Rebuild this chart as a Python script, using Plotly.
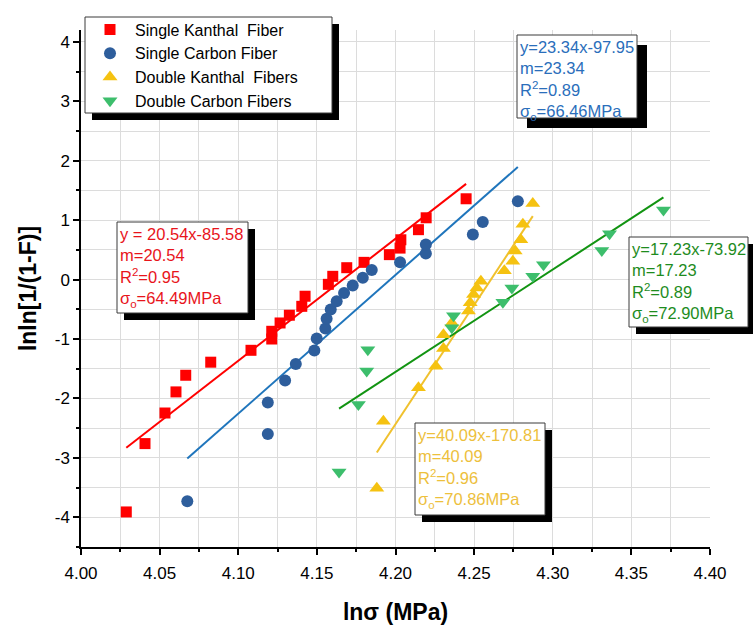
import plotly.graph_objects as go

# ---------------- data ----------------
sk_x = [4.0288, 4.0407, 4.0534, 4.0604, 4.0666, 4.0825, 4.1081, 4.1213, 4.1213, 4.1266, 4.1325,
        4.1404, 4.1425, 4.1573, 4.1601, 4.1690, 4.1800, 4.1961, 4.2029, 4.2034, 4.2146, 4.2195, 4.2449]
sk_y = [-3.91, -2.76, -2.245, -1.89, -1.61, -1.39, -1.19, -1.00, -0.87, -0.73, -0.60,
        -0.45, -0.28, -0.08, 0.055, 0.20, 0.29, 0.42, 0.53, 0.67, 0.84, 1.04, 1.36]

sc_x = [4.0676, 4.1188, 4.1188, 4.1298, 4.1366, 4.1484, 4.1499, 4.1554, 4.1562, 4.1588, 4.1626,
        4.1673, 4.1728, 4.1792, 4.1849, 4.2029, 4.2193, 4.2193, 4.2492, 4.2555, 4.2778]
sc_y = [-3.73, -2.60, -2.07, -1.70, -1.42, -1.195, -0.99, -0.825, -0.66, -0.505, -0.365,
        -0.224, -0.10, 0.03, 0.16, 0.29, 0.44, 0.59, 0.76, 0.97, 1.32]

dk_x = [4.1881, 4.1923, 4.2146, 4.2256, 4.2305, 4.2305, 4.2358, 4.2464, 4.2475, 4.2496, 4.2517,
        4.2543, 4.2692, 4.2746, 4.2761, 4.2797, 4.2810, 4.2873]
dk_y = [-3.51, -2.385, -1.82, -1.46, -1.16, -0.93, -0.73, -0.53, -0.39, -0.25, -0.14,
        -0.03, 0.15, 0.31, 0.48, 0.67, 0.93, 1.28]

dc_x = [4.1641, 4.1764, 4.1817, 4.1824, 4.2358, 4.2369, 4.2683, 4.2740, 4.2873, 4.2941,
        4.3312, 4.3361, 4.3704]
dc_y = [-3.24, -2.10, -1.54, -1.18, -0.81, -0.61, -0.38, -0.14, 0.055, 0.25,
        0.49, 0.77, 1.17]

series_names = ["Single Kanthal\u00a0 Fiber", "Single Carbon Fiber",
                "Double Kanthal\u00a0 Fibers", "Double Carbon Fibers"]
slopes = [20.54, 23.34, 40.09, 17.23]
intercepts = [-85.58, -97.95, -170.81, -73.92]
r2_values = [0.95, 0.89, 0.96, 0.89]
sigma0_values = [64.49, 66.46, 70.86, 72.90]
eq_texts = ["y = 20.54x-85.58", "y=23.34x-97.95", "y=40.09x-170.81", "y=17.23x-73.92"]

x_ticks = [4.00, 4.05, 4.10, 4.15, 4.20, 4.25, 4.30, 4.35, 4.40]
x_tick_text = ["4.00", "4.05", "4.10", "4.15", "4.20", "4.25", "4.30", "4.35", "4.40"]
y_ticks = [-4, -3, -2, -1, 0, 1, 2, 3, 4]
y_tick_text = ["-4", "-3", "-2", "-1", "0", "1", "2", "3", "4"]

# ---------------- styles ----------------
marker_colors = ["#FF0000", "#2E5E9C", "#F5C211", "#3DBE6C"]
line_colors = ["#FF0000", "#1F75BC", "#F0C12E", "#129412"]
text_colors = ["#E8141B", "#2A6EBB", "#EDC03C", "#1E8C1E"]
symbols = ["square", "circle", "triangle-up", "triangle-down"]
sizes = [11, 12, 13, 13]

xs = [sk_x, sc_x, dk_x, dc_x]
ys = [sk_y, sc_y, dk_y, dc_y]

FONT = "Arial, 'Liberation Sans', sans-serif"
W, H = 753, 628
PL, PT, PR, PB = 81, 30, 43, 81
PW, PH = W - PL - PR, H - PT - PB


def px(xp):
    return (xp - PL) / PW


def py(yp):
    return (PT + PH - yp) / PH


fig = go.Figure()

# fit lines
for i in range(4):
    x0, x1 = min(xs[i]), max(xs[i])
    fig.add_trace(go.Scatter(
        x=[x0, x1], y=[slopes[i] * x0 + intercepts[i], slopes[i] * x1 + intercepts[i]],
        mode="lines", line=dict(color=line_colors[i], width=2),
        showlegend=False, hoverinfo="skip"))

# data points
for i in range(4):
    fig.add_trace(go.Scatter(
        x=xs[i], y=ys[i], mode="markers", name=series_names[i],
        marker=dict(symbol=symbols[i], size=sizes[i], color=marker_colors[i],
                    line=dict(width=0))))

# boxes: (left, top, right, bottom) in pixels, shadow offset
boxes = [
    (117, 222, 248, 313, 7),   # red
    (517, 35, 637, 118, 10),   # blue
    (415, 423, 545, 515, 7),   # yellow
    (629, 237, 748, 327, 7),   # green
]
legend_box = (85, 17, 332, 113, 7)

shapes = []
for (l, t, r, b, o) in [legend_box] + boxes:
    shapes.append(dict(type="rect", xref="paper", yref="paper",
                       x0=px(l + o), x1=px(r + o), y0=py(b + o), y1=py(t + o),
                       fillcolor="black", line=dict(width=0), layer="above"))
    shapes.append(dict(type="rect", xref="paper", yref="paper",
                       x0=px(l), x1=px(r), y0=py(b), y1=py(t),
                       fillcolor="white", line=dict(color="#3A3A3A", width=1), layer="above"))

annotations = []
for i in range(4):
    l, t, r, b, o = boxes[i]
    txt = (f"{eq_texts[i]}<br>m={slopes[i]:.2f}<br>R<sup>2</sup>={r2_values[i]:.2f}"
           f"<br>σ<sub>o</sub>={sigma0_values[i]:.2f}MPa")
    annotations.append(dict(
        xref="paper", yref="paper", x=px(l + 1), y=py(t + 1),
        xanchor="left", yanchor="top", align="left", showarrow=False,
        text=txt, font=dict(family=FONT, size=16.5, color=text_colors[i])))

fig.update_layout(
    width=W, height=H,
    margin=dict(l=PL, r=PR, t=PT, b=PB, autoexpand=False),
    paper_bgcolor="white", plot_bgcolor="white",
    font=dict(family=FONT, color="black"),
    shapes=shapes, annotations=annotations,
    showlegend=True,
    legend=dict(x=px(85), y=py(12.5), xanchor="left", yanchor="top",
                bgcolor="rgba(0,0,0,0)", borderwidth=0,
                font=dict(family=FONT, size=16, color="black"),
                itemwidth=40, itemsizing="trace", tracegroupgap=0),
    xaxis=dict(
        range=[4.0, 4.4], tickmode="array", tickvals=x_ticks, ticktext=x_tick_text,
        ticks="outside", ticklen=6, tickwidth=1.5, tickcolor="black",
        showline=True, linecolor="black", linewidth=1.5, automargin=False,
        showgrid=True, gridcolor="#DCDCDC", gridwidth=1, zeroline=False,
        minor=dict(dtick=0.025, tick0=4.0, showgrid=True, gridcolor="#DCDCDC",
                   ticks="outside", ticklen=3, tickcolor="black", tickwidth=1.5),
        tickfont=dict(family=FONT, size=17, color="black"), ticklabelstandoff=4,
        title=dict(text="<b>lnσ (MPa)</b>", font=dict(family=FONT, size=23, color="black"),
                   standoff=22),
    ),
    yaxis=dict(
        range=[-4.5, 4.2], tickmode="array", tickvals=y_ticks, ticktext=y_tick_text,
        ticks="outside", ticklen=6, tickwidth=1.5, tickcolor="black",
        showline=True, linecolor="black", linewidth=1.5, automargin=False,
        showgrid=True, gridcolor="#DCDCDC", gridwidth=1, zeroline=False,
        minor=dict(dtick=0.5, tick0=0, showgrid=True, gridcolor="#DCDCDC",
                   ticks="outside", ticklen=3, tickcolor="black", tickwidth=1.5),
        tickfont=dict(family=FONT, size=17, color="black"),
        title=dict(text="<b>lnln[1/(1-F)]</b>", font=dict(family=FONT, size=23, color="black"),
                   standoff=12),
    ),
)

fig.write_html("out.html", config={"displayModeBar": False},
               post_script="document.body.style.margin='0';document.body.style.padding='0';")
